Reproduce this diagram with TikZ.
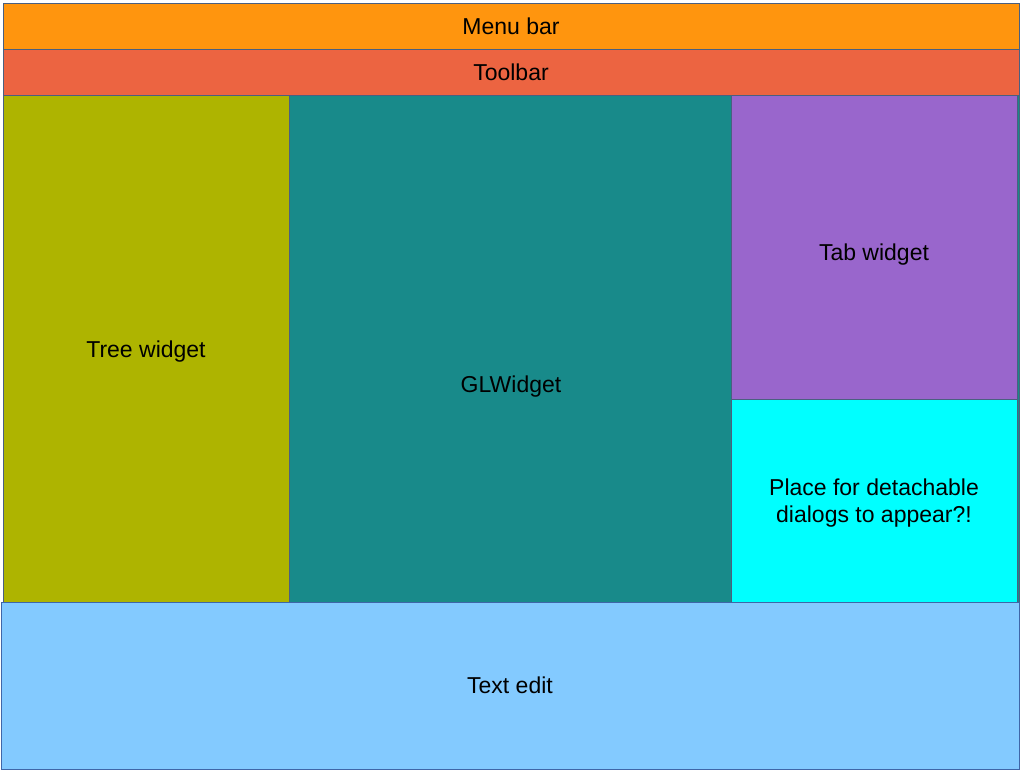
\documentclass[tikz,border=0pt]{standalone}
\usepackage{fontspec}
\setmainfont{Liberation Sans}
\definecolor{menuc}{HTML}{FF950E}
\definecolor{toolc}{HTML}{EC6441}
\definecolor{treec}{HTML}{AEB400}
\definecolor{glc}{HTML}{188A8A}
\definecolor{tabc}{HTML}{9966CC}
\definecolor{detc}{HTML}{00FFFF}
\definecolor{textc}{HTML}{83CAFF}
\definecolor{edgec}{HTML}{4A5F80}
\definecolor{edgeb}{HTML}{3F66A8}
\tikzset{
  panel/.style={draw=edgec, line width=0.9pt, inner sep=0pt, outer sep=0pt,
    font=\fontsize{23}{27}\selectfont, align=center},
  lbl/.style={inner sep=0pt, font=\fontsize{23}{27}\selectfont, align=center}
}
\begin{document}
\begin{tikzpicture}[x=1pt,y=-1pt]
\useasboundingbox (0,0) rectangle (1021,770);
\fill[white] (0,0) rectangle (1021,770);
% glwidget (under the right column)
\node[panel, fill=glc, minimum width=730pt, minimum height=507pt, anchor=north west] (gl) at (289,95) {};
\node[panel, fill=treec, minimum width=286pt, minimum height=507pt, anchor=north west] (tree) at (3,95) {};
\node[lbl] (treetext) at ([yshift=-3pt]tree.center) {Tree widget};
\node[panel, fill=tabc, minimum width=286pt, minimum height=304pt, anchor=north west] (tab) at (731,95) {};
\node[lbl] (tabtext) at (874,255) {Tab widget};
\node[panel, fill=detc, minimum width=286pt, minimum height=203pt, anchor=north west] (det) at (731,399) {};
\node[lbl] (dettext) at ([yshift=-3pt]det.center) {Place for detachable\\dialogs to appear?!};
\node[lbl] (gltext) at (511,387) {GLWidget};
\node[panel, fill=menuc, minimum width=1016pt, minimum height=46pt, anchor=north west] (menu) at (3,3) {Menu bar};
\node[panel, fill=toolc, minimum width=1016pt, minimum height=46pt, anchor=north west] (tool) at (3,49) {Toolbar};
\node[panel, draw=edgeb, fill=textc, minimum width=1018pt, minimum height=167pt, anchor=north west] (edit) at (1,602) {Text edit};
\end{tikzpicture}
\end{document}
